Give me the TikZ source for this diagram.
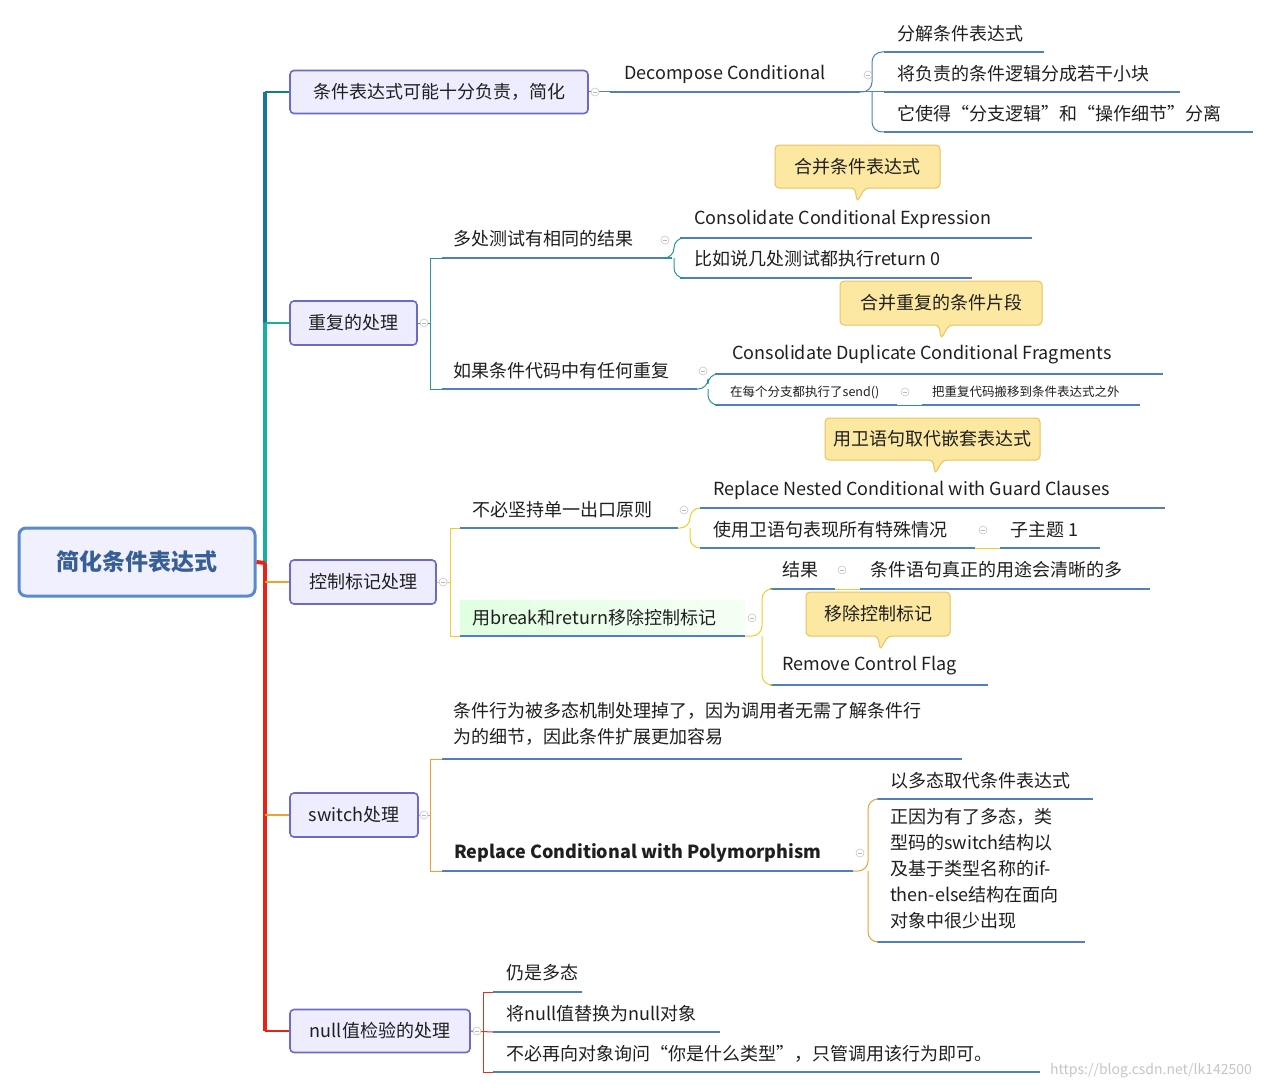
\documentclass[tikz,border=0pt]{standalone}
\usepackage{fontspec}
\setmainfont{Noto Sans CJK SC}
\newfontfamily\cjkf{Noto Sans CJK SC}
\begin{document}
\begin{tikzpicture}[x=1pt,y=-1pt,
  every node/.style={font=\fontsize{18}{22}\selectfont, text=black!88, inner sep=0pt},
  l1box/.style={draw=blue!45!gray!80, line width=1.6pt, rounded corners=4pt, fill=blue!7, inner sep=0pt},
  uline/.style={line width=2.6pt, color={rgb,255:red,79;green,127;blue,192}},
  cblue/.style={line width=1pt, color={rgb,255:red,79;green,127;blue,192}, rounded corners=10pt},
  cteal/.style={line width=1pt, color={rgb,255:red,40;green,150;blue,150}, rounded corners=10pt},
  cyel/.style={line width=1pt, color={rgb,255:red,240;green,205;blue,40}, rounded corners=10pt},
  corg/.style={line width=1pt, color={rgb,255:red,240;green,160;blue,50}, rounded corners=10pt},
  cred/.style={line width=1pt, color={rgb,255:red,225;green,50;blue,30}, rounded corners=10pt},
  callout/.style={fill={rgb,255:red,252;green,232;blue,160}, draw={rgb,255:red,232;green,196;blue,96}, line width=1pt, rounded corners=4pt},
  mk/.style={draw=gray!45, line width=0.6pt, fill=white}
]
\newcommand{\mmi}[7]{% name xL xR yU textx texty text
  \coordinate (#1-l) at (#2,#4); \coordinate (#1-r) at (#3,#4);
  \node[anchor=west] (#1) at (#5,#6) {#7};
  \draw[uline] (#1-l) -- (#1-r);}
\newcommand{\mkr}[2]{\draw[mk] (#1,#2) circle (4); \draw[gray!55,line width=0.6pt] (#1-2,#2) -- (#1+2,#2);}
\newcommand{\callo}[6]{% name x1 y1 x2 y2 px  (tip below)
  \draw[callout] (#2,#3) -- (#4,#3) -- (#4,#5) -- (#6+8,#5) -- (#6,#5+14) -- (#6-2,#5) -- (#2,#5) -- cycle;
  \node (#1) at ({(#2+#4)/2},{(#3+#5)/2}) {\fontsize{17}{20}\selectfont\vphantom{A}};}
\useasboundingbox (0,0) rectangle (1271,1089);
\fill[white] (0,0) rectangle (1271,1089);

% trunk
\coordinate (t0) at (265,92); \coordinate (t1) at (265,323); \coordinate (t2) at (265,563);
\coordinate (t3) at (265,815); \coordinate (t4) at (265,1031);
\draw[line width=4pt, color={rgb,255:red,25;green,120;blue,150}] (t0) -- (t1);
\draw[line width=4pt, color={rgb,255:red,25;green,175;blue,160}] (t1) -- (t2);
\draw[line width=4pt, color={rgb,255:red,230;green,35;blue,20}] (t2) -- (t4);

% root
\node[draw={rgb,255:red,90;green,138;blue,205}, line width=3pt, rounded corners=7pt, fill=blue!6,
  minimum width=236pt, minimum height=68pt, font=\fontsize{23}{26}\selectfont\bfseries,
  text={rgb,255:red,55;green,95;blue,150}] (root) at (137,562) {简化条件表达式};
\draw[line width=4pt, color={rgb,255:red,230;green,35;blue,20}] (root.east) -- (t2);

% level 1
\node[l1box, minimum width=298pt, minimum height=43pt] (b1) at (439,92) {条件表达式可能十分负责，简化};
\node[l1box, minimum width=127pt, minimum height=44pt] (b2) at (353.5,323) {重复的处理};
\node[l1box, minimum width=146pt, minimum height=44pt] (b3) at (363,582) {控制标记处理};
\node[l1box, minimum width=128pt, minimum height=44pt] (b4) at (354,815) {switch处理};
\node[l1box, minimum width=180pt, minimum height=43pt] (b5) at (380,1031) {null值检验的处理};
\draw[line width=2pt, color={rgb,255:red,25;green,120;blue,150}, rounded corners=8pt] (t1|-b1) -- (b1.west);
\draw[line width=2pt, color={rgb,255:red,25;green,175;blue,160}] (t1) -- (b2.west);
\draw[line width=2pt, color={rgb,255:red,240;green,160;blue,50}] (265,582) -- (b3.west);
\draw[line width=2pt, color={rgb,255:red,240;green,160;blue,50}] (t3) -- (b4.west);
\draw[line width=2pt, color={rgb,255:red,230;green,35;blue,20}, rounded corners=8pt] (t4) -- (b5.west);

% ---------- branch 1
\mmi{dc}{610}{860}{92}{624}{74}{Decompose Conditional}
\draw[cblue] (b1.east) -- (dc-l);
\mkr{595}{92}
\mmi{d1}{884}{1044}{52}{897}{34}{分解条件表达式}
\mmi{d2}{884}{1180}{92}{897}{74}{将负责的条件逻辑分成若干小块}
\mmi{d3}{884}{1253}{132}{897}{114}{它使得“分支逻辑”和“操作细节”分离}
\draw[cblue] (dc-r) -- (872,92) |- (d1-l);
\draw[cblue] (dc-r) -- (d2-l);
\draw[cblue] (872,92) |- (d3-l);
\mkr{868}{75}

% ---------- branch 2
\mmi{m1}{442}{672}{258}{453}{239}{多处测试有相同的结果}
\mmi{m2}{442}{697}{389}{453}{371}{如果条件代码中有任何重复}
\draw[cteal] (b2.east) -- (430,323);
\draw[cteal,rounded corners=0pt] (m1-l) -- (430,258) -- (430,389) -- (m2-l);
\mkr{424}{323}
\mkr{665}{240}
\mmi{cc}{680}{1032}{238}{694}{219}{Consolidate Conditional Expression}
\mmi{cr}{680}{972}{278}{694}{259}{比如说几处测试都执行return 0}
\draw[cteal] (m1-r) -- (674,258) |- (cc-l);
\draw[cteal] (674,258) |- (cr-l);
\callo{co1}{775}{145}{940}{188}{857}
\node at (857,166.5) {合并条件表达式};
\mkr{703}{371}
\mmi{cd}{715}{1163}{374}{732}{355}{Consolidate Duplicate Conditional Fragments}
\coordinate (sl) at (715,405); \coordinate (sr) at (897,405);
\node[anchor=west, font=\fontsize{12.5}{14}\selectfont] (sd) at (730,392) {在每个分支都执行了send()};
\draw[uline] (sl) -- (sr);
\coordinate (tl) at (922,405); \coordinate (tr) at (1140,405);
\node[anchor=west, font=\fontsize{12.5}{14}\selectfont] (ot) at (932,392) {把重复代码搬移到条件表达式之外};
\draw[uline] (tl) -- (tr);
\draw[cteal] (sr) -- (tl);
\mkr{905}{392}
\draw[cteal] (m2-r) -- (708,389) |- (cd-l);
\draw[cteal] (708,389) |- (sl);
\callo{co2}{840}{281}{1042}{325}{941}
\node at (941,303) {合并重复的条件片段};

% ---------- branch 3
\mmi{n1}{460}{678}{528}{472}{510}{不必坚持单一出口原则}
\fill[left color=green!12, right color=green!4] (460,600) rectangle (745,636);
\mmi{n2}{460}{745}{636}{472}{618}{用break和return移除控制标记}
\draw[cyel] (b3.east) -- (450,582);
\draw[cyel,rounded corners=0pt] (n1-l) -- (450,528) -- (450,636) -- (n2-l);
\mkr{443}{582}
\mkr{684}{510}
\mmi{rg}{700}{1165}{508}{713}{490}{Replace Nested Conditional with Guard Clauses}
\mmi{ug}{700}{975}{548}{713}{530}{使用卫语句表现所有特殊情况}
\mmi{zt}{1000}{1100}{548}{1010}{530}{子主题 1}
\draw[cyel] (ug-r) -- (zt-l);
\mkr{983}{530}
\draw[cyel] (n1-r) -- (690,528) |- (rg-l);
\draw[cyel] (690,528) |- (ug-l);
\callo{co3}{825}{418}{1040}{460}{935}
\node at (932.5,439) {用卫语句取代嵌套表达式};
\mkr{752}{618}
\mmi{jg}{770}{835}{589}{782}{570}{结果}
\mmi{jq}{860}{1150}{589}{870}{570}{条件语句真正的用途会清晰的多}
\draw[cyel] (jg-r) -- (jq-l);
\mkr{842}{570}
\mmi{rf}{770}{988}{685}{782}{666}{Remove Control Flag}
\draw[cyel] (n2-r) -- (762,636) |- (jg-l);
\draw[cyel] (762,636) |- (rf-l);
\callo{co4}{806}{592}{950}{636}{880}
\node at (878,614) {移除控制标记};

% ---------- branch 4
\coordinate (p1-l) at (442,759); \coordinate (p1-r) at (962,759);
\node[anchor=north west, align=left, font=\fontsize{18}{26}\selectfont] (p1) at (453,702)
  {条件行为被多态机制处理掉了，因为调用者无需了解条件行\\为的细节，因此条件扩展更加容易};
\draw[uline] (p1-l) -- (p1-r);
\mmi{rp}{442}{853}{871}{454}{853}{\bfseries Replace Conditional with Polymorphism}
\draw[corg] (b4.east) -- (430,815);
\draw[corg,rounded corners=0pt] (p1-l) -- (430,759) -- (430,871) -- (rp-l);
\mkr{424}{815}
\mkr{860}{853}
\mmi{y1}{877}{1093}{799}{890}{781}{以多态取代条件表达式}
\coordinate (y2-l) at (877,942); \coordinate (y2-r) at (1085,942);
\node[anchor=north west, align=left, font=\fontsize{18}{26}\selectfont] (y2) at (890,808)
  {正因为有了多态，类\\型码的switch结构以\\及基于类型名称的if-\\then-else结构在面向\\对象中很少出现};
\draw[uline] (y2-l) -- (y2-r);
\draw[corg] (rp-r) -- (868,871) |- (y1-l);
\draw[corg] (868,871) |- (y2-l);

% ---------- branch 5
\mmi{q1}{493}{582}{992}{506}{973}{仍是多态}
\mmi{q2}{493}{720}{1032}{506}{1014}{将null值替换为null对象}
\mmi{q3}{493}{1040}{1072}{506}{1054}{不必再向对象询问“你是什么类型”，只管调用该行为即可。}
\draw[cred] (b5.east) -- (q2-l);
\draw[cred,rounded corners=0pt] (q1-l) -- (483,992) -- (483,1072) -- (q3-l);
\mkr{477}{1031}

\node[anchor=west, text=gray!45, font=\fontsize{14}{16}\selectfont] (wm) at (1050,1071) {https://blog.csdn.net/lk142500};
\end{tikzpicture}
\end{document}
